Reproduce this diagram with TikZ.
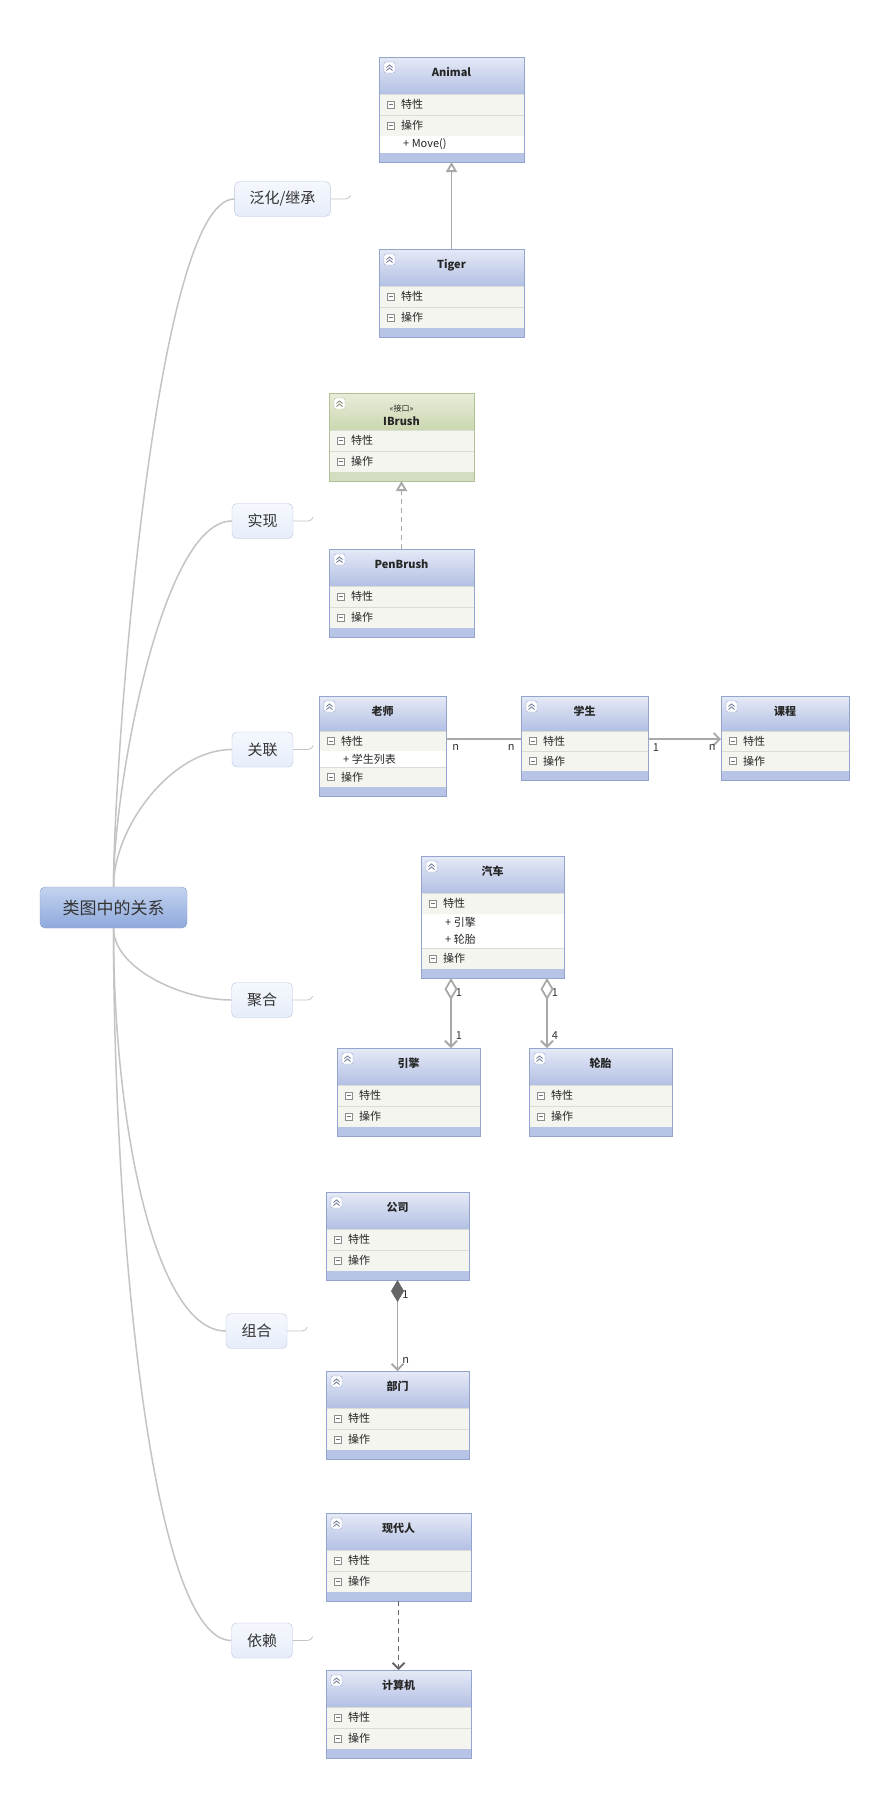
\documentclass[tikz,border=0pt]{standalone}
\usepackage{fontspec}
\setmainfont{Noto Sans CJK SC}
\usetikzlibrary{arrows.meta,positioning}

\definecolor{umlhi}{HTML}{E6EAF6}
\definecolor{umllo}{HTML}{B3C0E4}
\definecolor{umledge}{HTML}{93A4CF}
\definecolor{umlbar}{HTML}{B8C4E6}
\definecolor{ifhi}{HTML}{E8EDDB}
\definecolor{iflo}{HTML}{CBD7B0}
\definecolor{ifedge}{HTML}{B2C194}
\definecolor{ifbar}{HTML}{D3DDBF}
\definecolor{rowfill}{HTML}{F3F5EE}
\definecolor{rowline}{HTML}{D9DDD3}
\definecolor{linkgray}{HTML}{A8A8A8}
\definecolor{mapgray}{HTML}{C4C4C4}
\definecolor{roothi}{HTML}{C4D3F0}
\definecolor{rootlo}{HTML}{8EA9DB}
\definecolor{rootedge}{HTML}{8AA1CD}
\definecolor{branchfill}{HTML}{E6EDFA}
\definecolor{branchedge}{HTML}{BAC6DE}
\definecolor{inkgray}{HTML}{333333}

\tikzset{
  root/.style={rounded corners=5pt, draw=rootedge, top color=roothi, bottom color=rootlo,
    minimum width=147pt, minimum height=41pt, font=\fontsize{17}{20}\selectfont, text=inkgray},
  branch/.style={rounded corners=5pt, draw=branchedge, top color=white!60!branchfill, bottom color=branchfill,
    minimum width=61pt, minimum height=35pt, inner xsep=15pt, font=\fontsize{15}{18}\selectfont, text=inkgray},
  mapline/.style={draw=mapgray, line width=1.5pt},
  tail/.style={draw=mapgray, line width=.8pt},
  classtitle/.style={anchor=base, inner sep=0pt, font=\bfseries\fontsize{11}{13}\selectfont, text=black!85},
  classtext/.style={anchor=west, inner sep=0pt, font=\fontsize{11}{13}\selectfont, text=black!85},
  link/.style={draw=linkgray, line width=1.8pt},
  num/.style={font=\fontsize{11}{13}\selectfont, text=inkgray, inner sep=1pt}
}

\def\clshead{37}
\def\clsrow{21}
\def\clsitemh{17}

\newcommand{\classtop}[6][uml]{%
  \xdef\clsname{#2}\xdef\clsx{#3}\xdef\clsy{#4}\xdef\clstop{#4}\xdef\clsw{#5}\xdef\clsscheme{#1}%
  \shade[top color=#1hi, bottom color=#1lo] (#3,#4) rectangle ++(#5,\clshead);
  \draw[#1edge, fill=white, rounded corners=1.5pt] (#3+5,#4+5) rectangle ++(11,11);
  \draw[#1edge!70!black, line width=.8pt] (#3+7.5,#4+10.5) -- ++(3,-2.5) -- ++(3,2.5)
    (#3+7.5,#4+13.5) -- ++(3,-2.5) -- ++(3,2.5);
  \node[classtitle] at (#3+#5/2,#4+19) {#6};
  \pgfmathparse{#4+\clshead}\xdef\clsy{\pgfmathresult}%
}
\newcommand{\classrow}[1]{%
  \fill[rowfill] (\clsx,\clsy) rectangle ++(\clsw,\clsrow);
  \draw[rowline] (\clsx,\clsy) -- ++(\clsw,0);
  \draw[black!45, fill=white] (\clsx+8.5,\clsy+\clsrow/2-3.5) rectangle ++(7,7);
  \draw[black!55] (\clsx+10,\clsy+\clsrow/2) -- ++(4,0);
  \node[classtext] at (\clsx+22,\clsy+\clsrow/2) {#1};
  \pgfmathparse{\clsy+\clsrow}\xdef\clsy{\pgfmathresult}%
}
\newcommand{\classitem}[1]{%
  \fill[white] (\clsx,\clsy) rectangle ++(\clsw,\clsitemh);
  \node[classtext] at (\clsx+24,\clsy+\clsitemh/2) {#1};
  \pgfmathparse{\clsy+\clsitemh}\xdef\clsy{\pgfmathresult}%
}
\newcommand{\classend}{%
  \fill[fill=\clsscheme bar] (\clsx,\clsy) rectangle ++(\clsw,9);
  \pgfmathparse{\clsy+9-\clstop}\xdef\clsh{\pgfmathresult}%
  \node[draw=\clsscheme edge, line width=.8pt, inner sep=0pt, outer sep=0pt,
    minimum width=\clsw pt, minimum height=\clsh pt, anchor=north west] (\clsname) at (\clsx,\clstop) {};%
}

\begin{document}
\begin{tikzpicture}[x=1pt,y=-1pt]
  \fill[white] (0,0) rectangle (896,1804);

  \node[root] (root) at (113.5,907.5) {类图中的关系};
  \node[branch] (gen) at (282.5,199) {泛化/继承};
  \node[branch] (real) at (262.5,521) {实现};
  \node[branch] (assoc) at (262.5,749.5) {关联};
  \node[branch] (aggr) at (262,1000) {聚合};
  \node[branch] (comp) at (256.5,1331) {组合};
  \node[branch] (dep) at (262,1640.5) {依赖};

  \draw[mapline] (root.north) .. controls +(0,-120) and +(-80,0) .. (gen.west);
  \draw[mapline] (root.north) .. controls +(0,-100) and +(-70,0) .. (real.west);
  \draw[mapline] (root.north) .. controls +(0,-60) and +(-60,0) .. (assoc.west);
  \draw[mapline] (root.south) .. controls +(0,40) and +(-50,0) .. (aggr.west);
  \draw[mapline] (root.south) .. controls +(0,200) and +(-70,0) .. (comp.west);
  \draw[mapline] (root.south) .. controls +(0,300) and +(-80,0) .. (dep.west);
  \foreach \b in {gen,real,assoc,aggr,comp,dep}
    \draw[tail] (\b.east) -- ++(15,0) .. controls +(3,0) and +(-1,2) .. ++(5,-4);

  \classtop{animal}{379}{57}{145}{Animal}
  \classrow{特性}\classrow{操作}\classitem{+ Move()}\classend
  \classtop{tiger}{379}{249}{145}{Tiger}
  \classrow{特性}\classrow{操作}\classend
  \draw[link, -{Triangle[open, length=10pt, width=11pt]}] (tiger) -- (animal);

  \classtop[if]{ibrush}{329}{393}{145}{\raisebox{-13pt}{IBrush}}
  \classrow{特性}\classrow{操作}\classend
  \node[font=\fontsize{8}{9}\selectfont, text=black!85, inner sep=0pt] (stereo) at (401.5,408) {«接口»};
  \classtop{penbrush}{329}{549}{145}{PenBrush}
  \classrow{特性}\classrow{操作}\classend
  \draw[link, dash pattern=on 5pt off 4pt, -{Triangle[open, length=10pt, width=11pt]}] (penbrush) -- (ibrush);

  \def\clshead{35}\def\clsrow{20}\def\clsitemh{16}
  \classtop{teacher}{319}{696}{127}{老师}
  \classrow{特性}\classitem{+ 学生列表}\classrow{操作}\classend
  \classtop{student}{521}{696}{127}{学生}
  \classrow{特性}\classrow{操作}\classend
  \classtop{course}{721}{696}{128}{课程}
  \classrow{特性}\classrow{操作}\classend
  \draw[link] ([yshift=-43pt]teacher.north east) -- ([yshift=-43pt]student.north west)
    node[num, pos=.13, below=3pt] (m1) {n} node[num, pos=.87, below=3pt] (m2) {n};
  \draw[link, -{Straight Barb[length=6pt, width=12pt]}] ([yshift=-43pt]student.north east) -- ([yshift=-43pt]course.north west)
    node[num, pos=.11, below=3pt] (m3) {1} node[num, pos=.88, below=3pt] (m4) {n};

  \def\clshead{37}\def\clsrow{21}\def\clsitemh{17}
  \classtop{car}{421}{856}{143}{汽车}
  \classrow{特性}\classitem{+ 引擎}\classitem{+ 轮胎}\classrow{操作}\classend
  \classtop{engine}{337}{1048}{143}{引擎}
  \classrow{特性}\classrow{操作}\classend
  \classtop{tyre}{529}{1048}{143}{轮胎}
  \classrow{特性}\classrow{操作}\classend
  \draw[link, {Diamond[open, length=22pt, width=13pt]}-{Straight Barb[length=6pt, width=12pt]}]
    ([xshift=30pt]car.south west) -- ([xshift=114pt]engine.north west)
    node[num, pos=.21, right=3pt] (m5) {1} node[num, pos=.82, right=3pt] (m6) {1};
  \draw[link, {Diamond[open, length=22pt, width=13pt]}-{Straight Barb[length=6pt, width=12pt]}]
    ([xshift=126pt]car.south west) -- ([xshift=18pt]tyre.north west)
    node[num, pos=.21, right=3pt] (m7) {1} node[num, pos=.82, right=3pt] (m8) {4};

  \classtop{company}{326}{1192}{143}{公司}
  \classrow{特性}\classrow{操作}\classend
  \classtop{dept}{326}{1371}{143}{部门}
  \classrow{特性}\classrow{操作}\classend
  \draw[link, {Diamond[length=22pt, width=13pt, color=black!60]}-{Straight Barb[length=6pt, width=12pt]}] (company) -- (dept)
    node[num, pos=.16, right=3pt] (m9) {1} node[num, pos=.88, right=3pt] (m10) {n};

  \classtop{person}{326}{1513}{145}{现代人}
  \classrow{特性}\classrow{操作}\classend
  \classtop{computer}{326}{1670}{145}{计算机}
  \classrow{特性}\classrow{操作}\classend
  \draw[link, draw=black!60, dash pattern=on 5pt off 4pt, -{Straight Barb[length=6pt, width=12pt]}] (person) -- (computer);
\end{tikzpicture}
\end{document}
